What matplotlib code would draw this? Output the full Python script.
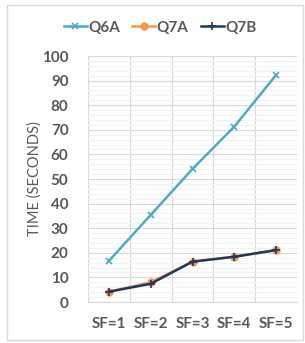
import numpy as np
import matplotlib.pyplot as plt
from matplotlib.patches import Rectangle

categories = ["SF=1", "SF=2", "SF=3", "SF=4", "SF=5"]
q6a = [16.7, 35.4, 54.1, 71.3, 92.3]
q7a = [4.2, 8.0, 16.4, 18.4, 21.1]
q7b = [4.2, 7.4, 16.4, 18.4, 21.1]

plt.rcParams['font.family'] = ['Lato', 'DejaVu Sans']
grey = '#595959'

fig = plt.figure(figsize=(3.05, 3.43), dpi=100)
ax = fig.add_axes([0.2885, 0.1195, 0.6853, 0.7172])

x = np.arange(len(categories))
ax.plot(x, q6a, color='#4BACC6', lw=1.8, marker='x', ms=5, mew=1.2, label='Q6A')
ax.plot(x, q7a, color='#F79646', lw=1.8, marker='o', ms=5, label='Q7A')
ax.plot(x, q7b, color='#1F3864', lw=1.8, marker='+', ms=6, mew=1.2, label='Q7B')

ax.set_xlim(-0.5, len(categories) - 0.5)
ax.set_ylim(0, 100)
ax.set_yticks(range(0, 101, 10))
ax.set_yticks(range(0, 101, 2), minor=True)
ax.set_xticks(x)
ax.set_xticklabels(categories)
ax.set_xticks(np.arange(-0.5, len(categories)), minor=True)

ax.grid(which='minor', axis='y', color='#F2F2F2', lw=0.8)
ax.grid(which='major', axis='y', color='#D9D9D9', lw=0.8)
ax.grid(which='minor', axis='x', color='#D9D9D9', lw=0.8)
ax.set_axisbelow(True)

for s in ['top', 'right', 'left']:
    ax.spines[s].set_visible(False)
ax.spines['bottom'].set_color('#D9D9D9')
ax.tick_params(which='both', length=0)
ax.tick_params(axis='both', colors=grey, labelsize=11)
for lab in ax.get_xticklabels() + ax.get_yticklabels():
    lab.set_fontweight('bold')
ax.tick_params(axis='x', pad=11)
ax.tick_params(axis='y', pad=14)

ax.set_ylabel('TIME (SECONDS)', color=grey, fontsize=10.5, labelpad=0)

leg = fig.legend(loc='upper center', bbox_to_anchor=(0.525, 0.98), ncol=3, frameon=False,
                 handlelength=1.5, columnspacing=0.8, handletextpad=0.1,
                 prop={'weight': 'bold', 'size': 11})
for t in leg.get_texts():
    t.set_color(grey)

fig.patches.append(Rectangle((0.022, 0.008), 0.97, 0.978, transform=fig.transFigure,
                             fill=False, edgecolor='#D9D9D9', lw=1))

plt.savefig('out.png', dpi=100)
plt.close()
